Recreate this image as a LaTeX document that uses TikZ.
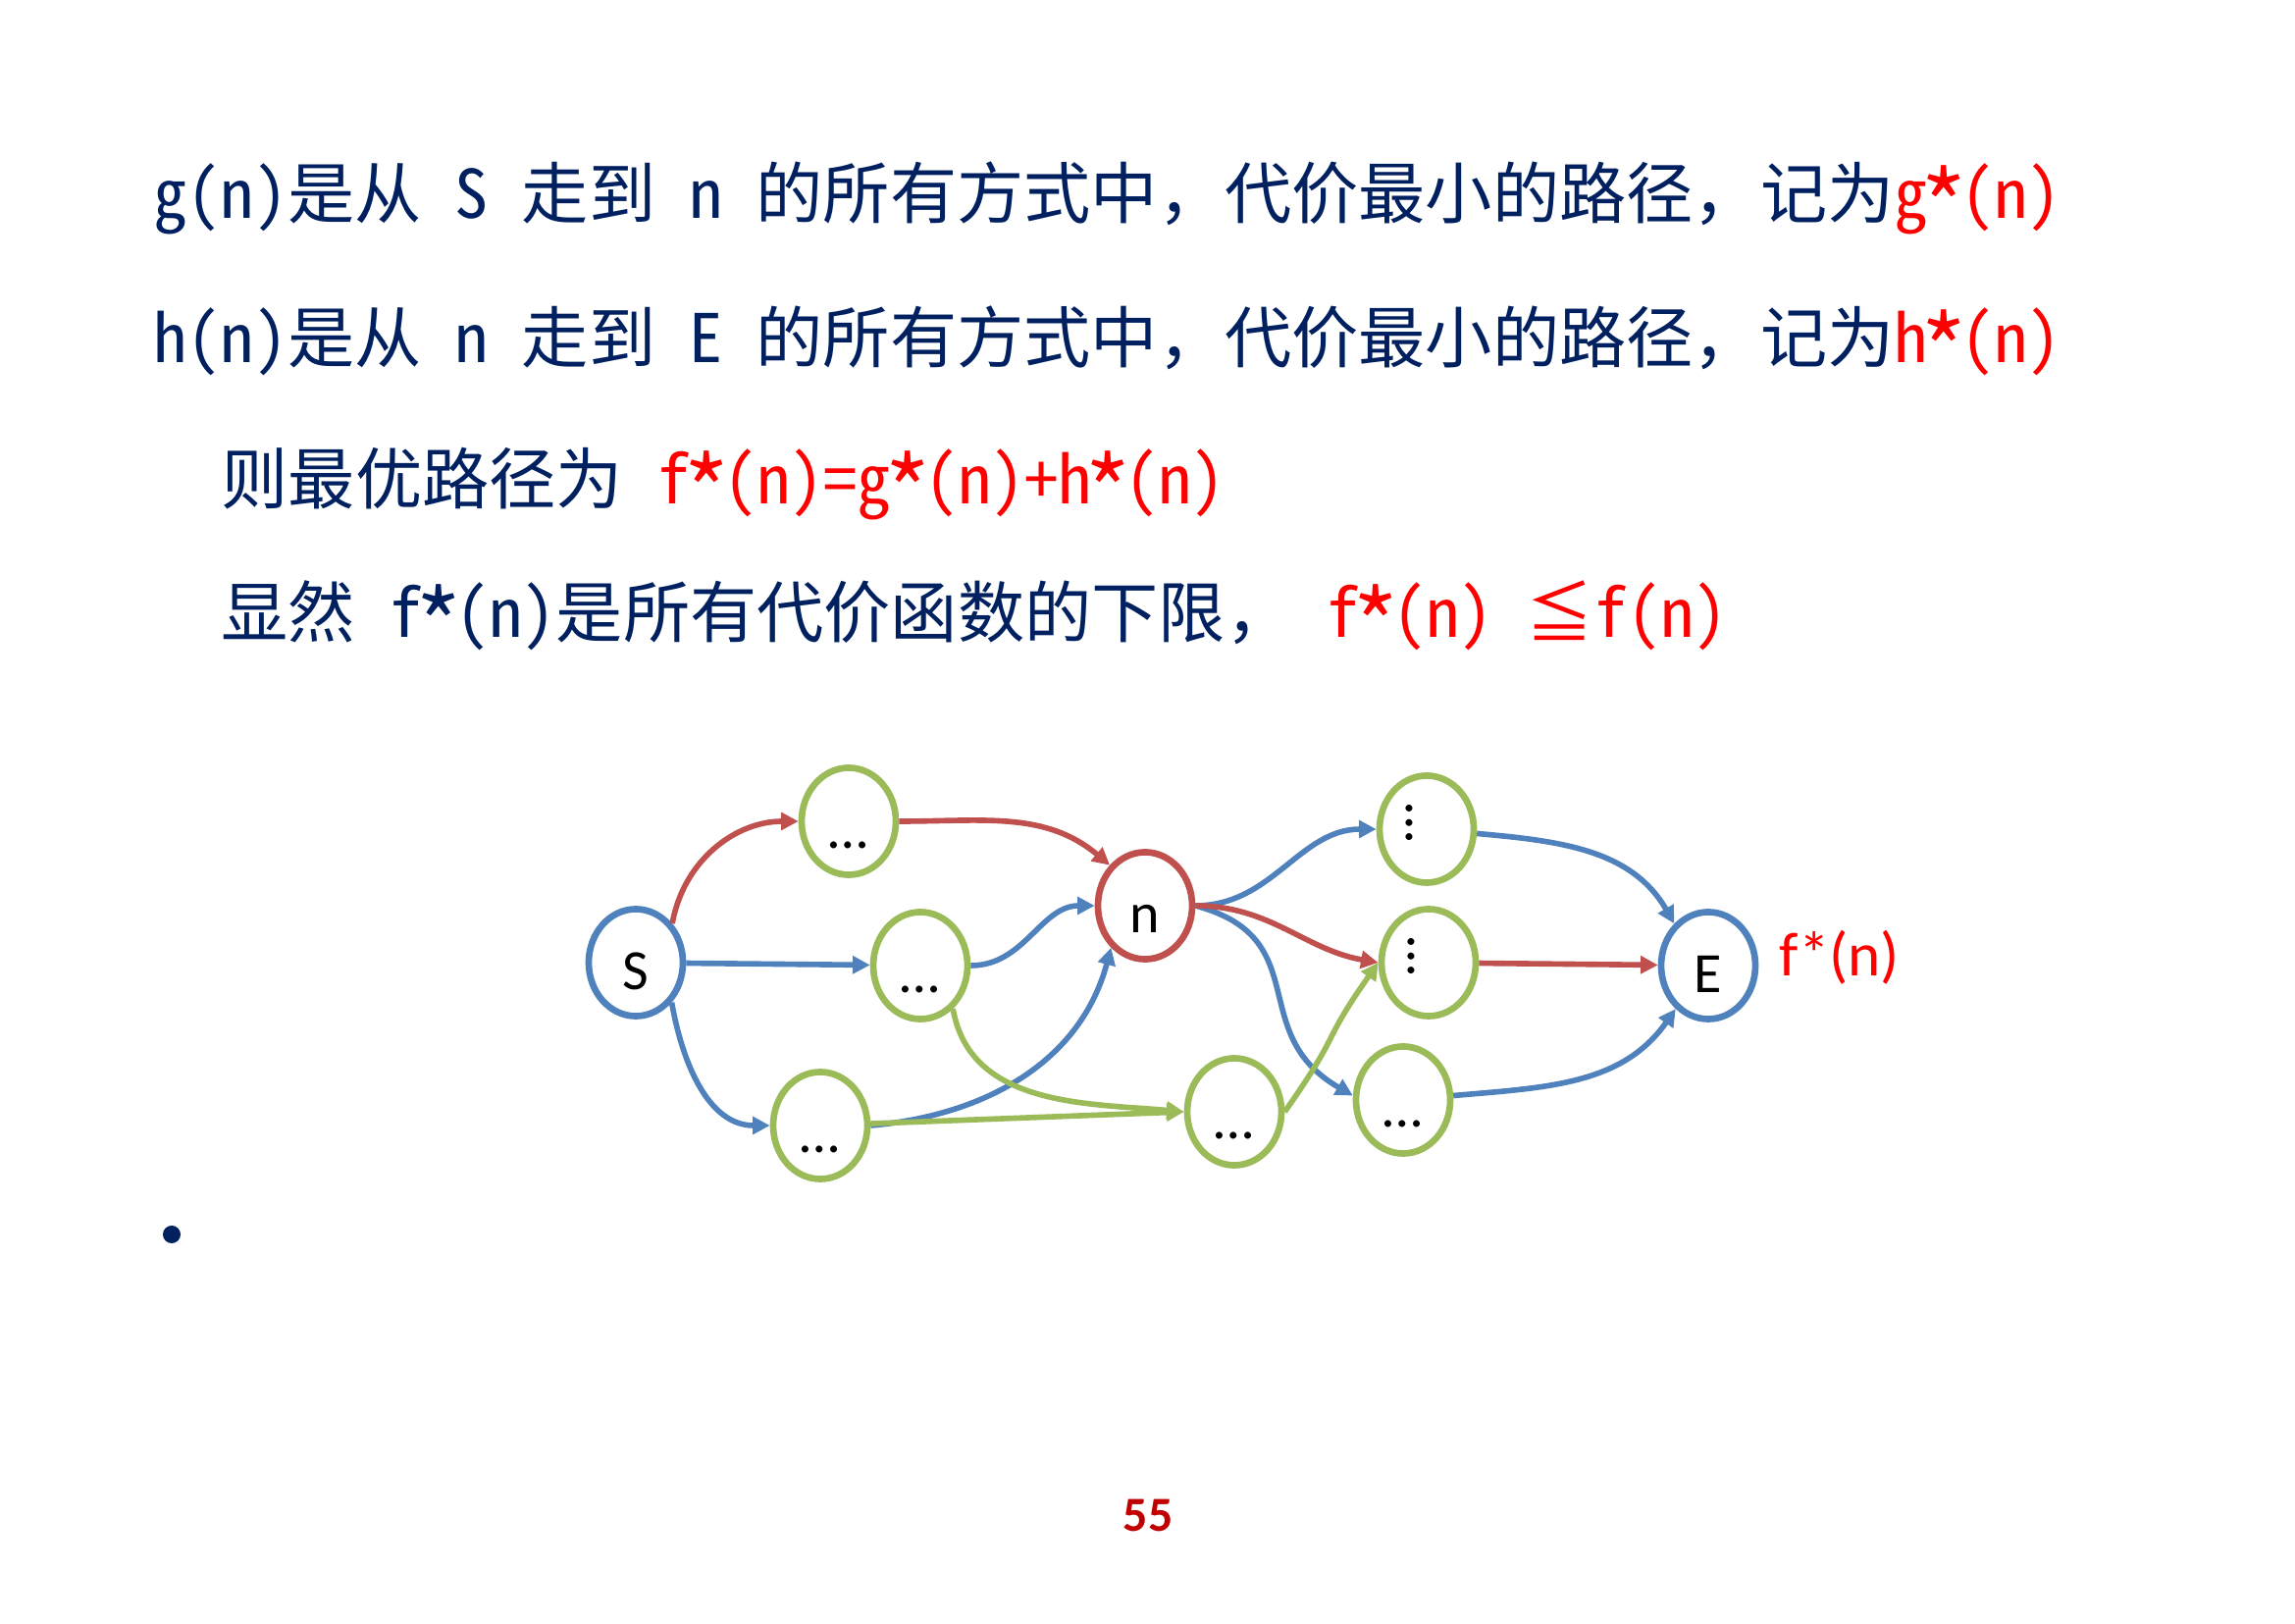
\documentclass[tikz,border=0pt]{standalone}
\usepackage{fontspec}
\usepackage{graphicx}
\usetikzlibrary{shapes.geometric,arrows.meta}
\newfontfamily\cjk{Noto Sans CJK SC}
\newfontfamily\lat[RawFeature=+hwid]{Noto Sans CJK SC}
\newfontfamily\lblfont{Carlito}
\definecolor{navy}{RGB}{0,32,96}
\definecolor{oblue}{RGB}{79,129,189}
\definecolor{ored}{RGB}{192,80,77}
\definecolor{ogreen}{RGB}{155,187,89}
\definecolor{pgred}{RGB}{192,0,0}
\newcommand{\bigast}{\raisebox{-0.36em}{\scalebox{1.45}{*}}}
\newcommand{\hwc}[1]{\makebox[0.5em][c]{\lat #1}}
\newcommand{\hw}[1]{\hwloop#1\relax}
\def\hwloop#1{\ifx\relax#1\else\ifx*#1\hwc{\bigast}\else\hwc{#1}\fi\expandafter\hwloop\fi}
\newcommand{\hs}{\hspace{0.5em}}
\newcommand{\vdotsrot}{\raisebox{0.14cm}{\rotatebox{90}{…}}\kern0.36cm}

\begin{document}
\begin{tikzpicture}[
  x=0.01cm, y=0.01cm,
  >={Triangle[length=5pt,width=5pt]},
  vtx/.style={ellipse, draw, line width=1.9pt, minimum width=0.96cm,
    minimum height=1.09cm, inner sep=0pt,
    font=\lblfont\fontsize{16.5pt}{18pt}\selectfont,
    text height=0.62cm, text depth=0.08cm},
  gvtx/.style={vtx, draw=ogreen},
  bvtx/.style={vtx, draw=oblue},
  rvtx/.style={vtx, draw=ored},
  barc/.style={color=oblue, line width=1.6pt},
  rarc/.style={color=ored, line width=1.6pt},
  garc/.style={color=ogreen, line width=1.6pt},
  txt/.style={anchor=base west, inner sep=0pt, text=navy,
    font=\cjk\fontsize{19.4pt}{24pt}\selectfont}
]
  \path[fill=white] (0,0) rectangle (2339,1654);

  \node[txt] (gline) at (156,1431) {\hw{g(n)}是从\hs\hw{S}\hs 走到\hs\hw{n}\hs 的所有方式中，代价最小的路径，记为\textcolor{red}{\hw{g*(n)}}};
  \node[txt] (hline) at (156,1284) {\hw{h(n)}是从\hs\hw{n}\hs 走到\hs\hw{E}\hs 的所有方式中，代价最小的路径，记为\textcolor{red}{\hw{h*(n)}}};
  \node[txt] (fline) at (225,1140) {则最优路径为\hs\textcolor{red}{\hw{f*(n)=g*(n)+h*(n)}}};
  \node[txt] (lowline) at (225,1004) {显然\hs\hw{f*(n)}是所有代价函数的下限，\hs\textcolor{red}{\hw{f*(n)}\hs ≦\hw{f(n)}}};

  \node[bvtx] (S) at (648,673) {S};
  \node[gvtx] (u1) at (865,817) {…};
  \node[gvtx] (u2) at (938,670) {…};
  \node[gvtx] (u3) at (836,507) {…};
  \node[rvtx] (n) at (1167,731) {n};
  \node[gvtx] (v1) at (1258,521) {…};
  \node[gvtx] (w1) at (1454,809) {\vdotsrot};
  \node[gvtx] (w2) at (1456,673) {\vdotsrot};
  \node[gvtx] (w3) at (1430,533) {…};
  \node[bvtx] (E) at (1741,670) {E};
  \node[anchor=base west, inner sep=0pt, text=red,
    font=\lblfont\fontsize{18pt}{20pt}\selectfont] (fE) at (1813,659) {f*(n)};

  \path[->, barc]
    (S) edge (u2)
    (S.-48) edge[out=-80, in=180] (u3)
    (u2) edge[out=0, in=180] (n)
    (u3.east) edge[out=5, in=-105] (n.-129)
    (n) edge[out=0, in=180] (w1)
    (n.east) edge[out=-15, in=150, looseness=1.3] (w3.175)
    (w1) edge[out=-5, in=120] (E.129)
    (w3) edge[out=5, in=-125] (E.-127);

  \path[->, garc]
    (u2.-53) edge[out=-80, in=175] (v1.west)
    (u3) edge (v1.west)
    (v1.east) edge[out=55, in=-125, looseness=1.5] (w2.west);

  \path[->, rarc]
    (S.47) edge[out=80, in=180] (u1)
    (u1) edge[out=0, in=140] (n.131)
    (n.east) edge[out=0, in=170] (w2.west)
    (w2) edge (E);

  \fill[navy] (175,396) circle[radius=0.09cm];
  \node[anchor=base, inner sep=0pt, text=pgred,
    font=\lblfont\bfseries\fontsize{14.2pt}{16pt}\selectfont] (pg) at (1170,94) {55};
\end{tikzpicture}
\end{document}
